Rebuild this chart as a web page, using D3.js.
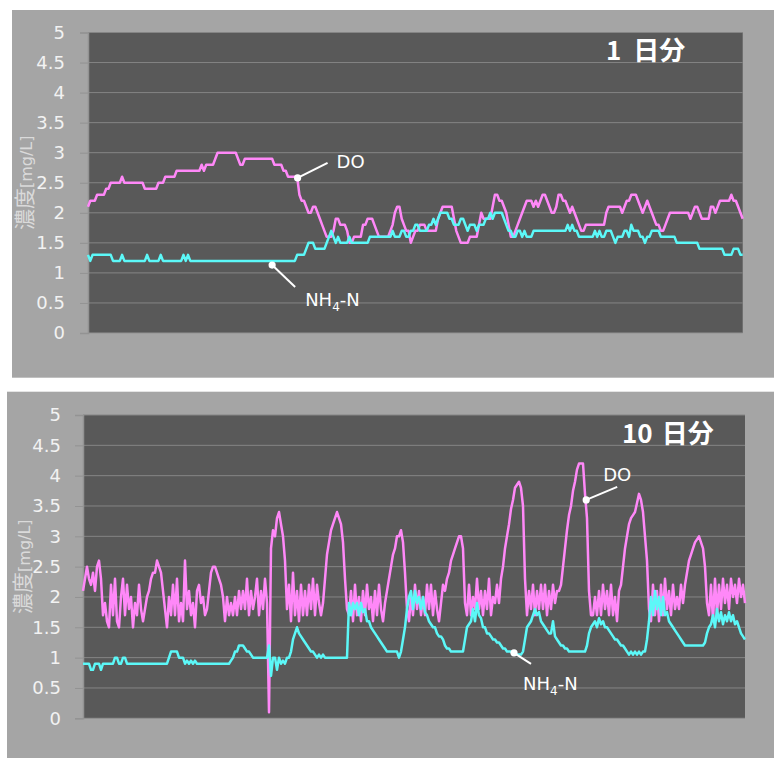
<!DOCTYPE html>
<html>
<head>
<meta charset="utf-8">
<script src="https://cdn.jsdelivr.net/npm/d3@7"></script>
<style>
  html, body { margin: 0; padding: 0; background: #ffffff; }
  svg { display: block; }
</style>
</head>
<body>
<svg id="chart" width="774" height="758"></svg>
<script>
// ---- data -------------------------------------------------------------
// Y axis ticks (mg/L)
const yTicks = [0, 0.5, 1, 1.5, 2, 2.5, 3, 3.5, 4, 4.5, 5];
const yTickLabels = ["0", "0.5", "1", "1.5", "2", "2.5", "3", "3.5", "4", "4.5", "5"];
const axisTitle = ["濃度", "[mg/L]"];
const seriesNames = ["DO", "NH4-N"];
const panelTitles = [["1", "日分"], ["10", "日分"]];

// One day, 5-minute readings
const doDay1 = [
  2.1,2.2,2.2,2.2,2.3,2.3,2.3,2.3,2.4,2.4,
  2.5,2.5,2.5,2.5,2.5,2.6,2.5,2.5,2.5,2.5,
  2.5,2.5,2.5,2.5,2.5,2.4,2.4,2.4,2.4,2.4,
  2.4,2.5,2.5,2.5,2.6,2.6,2.6,2.6,2.6,2.7,
  2.7,2.7,2.7,2.7,2.7,2.7,2.7,2.7,2.7,2.7,
  2.8,2.7,2.8,2.8,2.8,2.8,2.9,3.0,3.0,3.0,
  3.0,3.0,3.0,3.0,3.0,3.0,2.9,2.8,2.8,2.9,
  2.9,2.9,2.9,2.9,2.9,2.9,2.9,2.9,2.9,2.9,
  2.9,2.9,2.8,2.8,2.8,2.8,2.7,2.7,2.6,2.6,
  2.6,2.6,2.6,2.3,2.2,2.2,2.1,2.0,2.0,2.1,
  2.1,2.0,1.9,1.8,1.7,1.6,1.6,1.6,1.7,1.9,
  1.9,1.8,1.8,1.8,1.7,1.5,1.5,1.6,1.6,1.6,
  1.6,1.8,1.8,1.9,1.9,1.9,1.8,1.7,1.6,1.6,
  1.6,1.6,1.6,1.7,1.8,2.0,2.1,2.1,1.9,1.8,
  1.7,1.7,1.5,1.6,1.7,1.7,1.8,1.8,1.8,1.7,
  1.7,1.7,1.7,1.7,1.9,2.0,2.1,2.1,2.1,2.1,
  2.1,1.9,1.7,1.6,1.5,1.5,1.5,1.5,1.6,1.6,
  1.6,1.6,1.8,2.0,1.9,1.9,1.9,1.9,2.1,2.3,
  2.3,2.2,2.2,2.1,2.0,1.8,1.6,1.6,1.7,1.8,
  1.9,2.0,2.1,2.2,2.2,2.2,2.1,2.2,2.1,2.2,
  2.3,2.3,2.2,2.1,2.0,2.0,2.1,2.3,2.3,2.2,
  2.2,2.1,2.0,2.1,2.0,1.9,1.8,1.7,1.7,1.8,
  1.8,1.8,1.8,1.8,1.8,1.8,1.8,1.8,2.0,2.1,
  2.1,2.1,2.1,2.1,2.1,2.0,2.1,2.2,2.2,2.3,
  2.3,2.3,2.2,2.1,2.0,2.1,2.2,2.1,2.0,1.9,
  1.8,1.8,1.7,1.7,1.8,1.9,2.0,2.0,2.0,2.0,
  2.0,2.0,2.0,2.0,2.0,1.9,2.0,2.1,2.1,2.0,
  1.9,1.9,1.9,1.9,2.1,2.1,2.0,2.1,2.2,2.2,
  2.2,2.2,2.2,2.3,2.2,2.2,2.1,2.0,1.9
];
const nh4Day1 = [
  1.3,1.2,1.3,1.3,1.3,1.3,1.3,1.3,1.3,1.3,
  1.3,1.2,1.2,1.2,1.2,1.3,1.2,1.2,1.2,1.2,
  1.2,1.2,1.2,1.2,1.2,1.2,1.3,1.2,1.2,1.2,
  1.2,1.2,1.3,1.2,1.2,1.2,1.2,1.2,1.2,1.2,
  1.2,1.2,1.3,1.2,1.3,1.2,1.2,1.2,1.2,1.2,
  1.2,1.2,1.2,1.2,1.2,1.2,1.2,1.2,1.2,1.2,
  1.2,1.2,1.2,1.2,1.2,1.2,1.2,1.2,1.2,1.2,
  1.2,1.2,1.2,1.2,1.2,1.2,1.2,1.2,1.2,1.2,
  1.2,1.2,1.2,1.2,1.2,1.2,1.2,1.2,1.2,1.2,
  1.2,1.2,1.3,1.3,1.3,1.3,1.4,1.5,1.5,1.5,
  1.4,1.4,1.4,1.4,1.4,1.5,1.6,1.7,1.6,1.5,
  1.6,1.5,1.5,1.5,1.5,1.6,1.5,1.5,1.5,1.5,
  1.5,1.5,1.5,1.5,1.6,1.6,1.6,1.6,1.6,1.6,
  1.6,1.6,1.6,1.6,1.7,1.6,1.6,1.6,1.7,1.7,
  1.6,1.6,1.7,1.7,1.8,1.8,1.7,1.7,1.7,1.7,
  1.8,1.8,1.9,1.8,1.9,2.0,2.0,2.0,2.0,1.9,
  1.9,1.8,1.8,1.8,1.9,1.9,1.8,1.7,1.8,1.8,
  1.8,1.7,1.8,1.8,1.8,1.9,1.9,2.0,1.9,2.0,
  2.0,2.0,2.0,1.9,1.8,1.7,1.7,1.6,1.6,1.7,
  1.7,1.6,1.7,1.6,1.6,1.6,1.7,1.7,1.7,1.7,
  1.7,1.7,1.7,1.7,1.7,1.7,1.7,1.7,1.7,1.7,
  1.7,1.8,1.7,1.8,1.7,1.7,1.6,1.6,1.6,1.6,
  1.6,1.6,1.6,1.7,1.6,1.7,1.6,1.6,1.7,1.7,
  1.7,1.6,1.5,1.6,1.6,1.6,1.7,1.7,1.6,1.8,
  1.7,1.7,1.7,1.6,1.6,1.5,1.6,1.6,1.7,1.7,
  1.7,1.7,1.6,1.6,1.6,1.6,1.6,1.6,1.6,1.5,
  1.5,1.5,1.5,1.5,1.5,1.5,1.5,1.5,1.5,1.4,
  1.4,1.4,1.4,1.4,1.4,1.4,1.4,1.4,1.4,1.4,
  1.3,1.3,1.3,1.3,1.4,1.4,1.4,1.3,1.3
];

// Ten days, 45-minute readings
const doDay10 = [
  2.1,2.3,2.5,2.3,2.2,2.4,2.1,2.5,2.6,2.3,
  1.7,1.9,1.6,1.5,2.2,1.7,2.3,1.6,1.5,2.0,
  2.3,1.7,2.2,1.8,2.0,1.5,1.9,1.7,2.2,1.8,
  1.6,1.8,2.0,2.1,2.3,2.4,2.4,2.6,2.5,2.4,
  2.1,1.8,1.5,2.0,1.7,2.2,1.7,2.3,1.6,1.9,
  1.6,2.6,1.8,2.1,1.7,1.9,1.5,2.1,2.2,1.9,
  2.0,1.7,1.8,2.1,2.4,2.5,2.5,2.4,2.3,2.2,
  2.0,1.6,2.0,1.7,1.9,1.7,2.0,1.7,2.1,1.8,
  2.1,1.8,2.3,1.7,2.1,1.8,2.0,2.3,1.7,2.1,
  1.8,2.3,1.9,0.1,2.8,3.1,3.0,3.3,3.4,3.2,
  3.0,2.6,1.8,2.2,1.6,2.4,1.7,2.1,1.6,2.2,
  1.7,2.1,1.7,2.2,1.8,2.3,1.7,2.2,1.9,1.7,
  1.9,2.3,2.7,2.9,3.1,3.2,3.3,3.4,3.3,3.2,
  2.9,2.3,1.8,1.7,2.1,1.6,2.2,1.7,2.0,1.6,
  2.1,1.7,2.2,1.8,2.0,1.6,2.1,1.7,2.2,1.8,
  1.6,1.9,2.1,2.3,2.5,2.7,2.8,3.0,3.0,3.1,
  2.9,2.4,1.8,1.6,2.0,1.7,2.2,1.8,2.1,1.7,
  2.0,1.7,2.2,1.8,2.2,1.7,2.1,1.8,1.6,1.9,
  2.2,2.1,2.3,2.4,2.6,2.7,2.8,2.9,3.0,3.0,
  2.8,1.9,1.7,2.2,1.7,2.0,1.8,2.3,1.8,2.1,
  1.7,2.1,1.8,2.3,1.7,2.0,1.9,2.2,1.9,2.3,
  2.5,2.8,3.0,3.2,3.45,3.6,3.8,3.85,3.9,3.8,
  3.5,2.3,1.7,2.1,1.8,2.2,1.7,2.1,1.8,2.2,
  1.8,2.2,1.7,2.1,1.8,2.2,1.9,2.1,2.1,2.2,
  2.5,2.8,3.1,3.35,3.5,3.75,3.9,4.1,4.2,4.2,
  4.2,3.7,3.3,2.1,1.7,1.7,2.0,1.7,2.1,1.7,
  2.2,1.8,2.1,1.7,2.2,1.7,2.0,1.6,2.1,2.2,
  2.5,2.8,3.0,3.2,3.3,3.35,3.4,3.55,3.7,3.6,
  3.4,3.0,2.6,1.8,1.6,2.2,1.7,2.1,1.6,2.2,
  1.7,2.3,1.8,2.1,1.7,2.2,1.8,2.0,1.8,2.2,
  1.9,2.2,2.4,2.6,2.7,2.8,2.9,2.95,3.0,2.9,
  2.8,2.5,1.9,1.7,2.2,1.6,2.3,1.7,2.2,1.8,
  2.3,1.9,2.2,1.8,2.3,2.0,2.2,1.9,2.3,2.0,
  2.2,1.9
];
const nh4Day10 = [
  0.9,0.9,0.9,0.9,0.8,0.8,0.9,0.9,0.9,0.8,
  0.9,0.9,0.9,0.9,0.9,0.9,1.0,1.0,0.9,0.9,
  1.0,1.0,0.9,0.9,0.9,0.9,0.9,0.9,0.9,0.9,
  0.9,0.9,0.9,0.9,0.9,0.9,0.9,0.9,0.9,0.9,
  0.9,0.9,0.9,1.0,1.1,1.1,1.1,1.1,1.0,1.0,
  1.0,0.9,0.95,0.9,0.95,0.9,0.95,0.9,0.9,0.9,
  0.9,0.9,0.9,0.9,0.9,0.9,0.9,0.9,0.9,0.9,
  0.9,0.9,0.9,0.9,0.95,1.0,1.1,1.1,1.2,1.2,
  1.2,1.15,1.1,1.1,1.05,1.0,1.0,1.0,1.0,1.0,
  1.0,1.0,1.0,1.2,0.7,1.0,1.0,0.8,1.0,0.9,
  0.95,0.9,1.0,1.0,1.1,1.3,1.4,1.5,1.4,1.35,
  1.3,1.25,1.2,1.15,1.1,1.1,1.05,1.0,1.05,1.0,
  1.05,1.0,1.0,1.0,1.0,1.0,1.0,1.0,1.0,1.0,
  1.0,1.0,1.0,1.9,1.7,1.9,1.8,1.9,1.7,1.9,
  1.75,1.8,1.6,1.6,1.5,1.45,1.4,1.35,1.3,1.25,
  1.2,1.15,1.1,1.1,1.1,1.1,1.1,1.1,1.0,1.1,
  1.3,1.5,1.8,2.0,2.1,1.8,2.1,1.9,2.0,1.8,
  2.0,1.75,1.7,1.6,1.55,1.5,1.5,1.4,1.35,1.35,
  1.3,1.2,1.15,1.15,1.1,1.1,1.1,1.1,1.1,1.1,
  1.1,1.3,1.5,1.55,1.6,1.8,1.6,1.9,1.7,1.65,
  1.5,1.5,1.4,1.4,1.35,1.3,1.3,1.25,1.25,1.2,
  1.15,1.15,1.1,1.1,1.1,1.05,1.05,1.05,1.05,1.05,
  1.1,1.3,1.5,1.55,1.6,1.7,1.8,1.7,1.75,1.6,
  1.55,1.5,1.45,1.4,1.4,1.6,1.35,1.3,1.25,1.2,
  1.2,1.15,1.15,1.1,1.1,1.1,1.1,1.1,1.1,1.1,
  1.1,1.1,1.2,1.4,1.5,1.55,1.6,1.5,1.65,1.55,
  1.6,1.5,1.5,1.45,1.4,1.35,1.3,1.3,1.25,1.2,
  1.2,1.15,1.1,1.05,1.1,1.05,1.1,1.05,1.1,1.05,
  1.1,1.1,1.3,1.6,2.0,1.7,2.1,1.8,2.0,1.7,
  2.0,1.7,1.75,1.6,1.55,1.5,1.45,1.4,1.35,1.3,
  1.25,1.2,1.2,1.2,1.2,1.2,1.2,1.2,1.2,1.2,
  1.2,1.25,1.4,1.5,1.55,1.7,1.5,1.8,1.6,1.75,
  1.55,1.7,1.6,1.75,1.6,1.7,1.55,1.6,1.5,1.4,
  1.35,1.3
];

// Callout anchors: reading index and value where each leader touches its line
const calloutsDay1 = [{ i: 92.2, v: 2.58 }, { i: 81, v: 1.13 }];
const calloutsDay10 = [{ i: 251.6, v: 3.6 }, { i: 215.5, v: 1.08 }];

// ---- drawing ----------------------------------------------------------
const COLORS = {
  frame: "#a5a5a5",
  plot: "#595959",
  grid: "#858585",
  axis: "#939393",
  tick: "#f2f2f2",
  title: "#dadada",
  doLine: "#ff88f8",
  nh4Line: "#5cf8f8",
  callout: "#ffffff"
};
const FONT = "'DejaVu Sans', 'Noto Sans CJK JP', sans-serif";
const CJK = "'Noto Sans CJK JP', sans-serif";

const svg = d3.select("#chart");

const panels = [
  {
    frame: { x: 12, y: 10, w: 762, h: 367.7 },
    plot: { x0: 88, x1: 742.7, y0: 32.5, y1: 333 },
    doData: doDay1, nh4Data: nh4Day1, callouts: calloutsDay1,
    labelRight: 65, axisTitleX: 26,
    heading: panelTitles[0], headingX: 606, headingGap: 12, headingY: 60,
    // leader end and label offsets from each anchor: [DO, NH4-N]
    leaders: [{ ex: 30, ey: -15, lx: 39, ly: -10 }, { ex: 23, ey: 22, lx: 33, ly: 41 }]
  },
  {
    frame: { x: 7, y: 391.7, w: 767, h: 366.3 },
    plot: { x0: 83, x1: 745, y0: 415, y1: 718.3 },
    doData: doDay10, nh4Data: nh4Day10, callouts: calloutsDay10,
    labelRight: 61, axisTitleX: 24,
    heading: panelTitles[1], headingX: 622, headingGap: 9, headingY: 443,
    leaders: [{ ex: 31, ey: -13, lx: 17, ly: -19 }, { ex: 17, ey: 11, lx: 9, ly: 37 }]
  }
];

panels.forEach(drawPanel);

function drawPanel(p) {
  const g = svg.append("g");
  const { x0, x1, y0, y1 } = p.plot;

  g.append("rect")
    .attr("x", p.frame.x).attr("y", p.frame.y)
    .attr("width", p.frame.w).attr("height", p.frame.h)
    .attr("fill", COLORS.frame);

  g.append("rect")
    .attr("x", x0).attr("y", y0)
    .attr("width", x1 - x0).attr("height", y1 - y0)
    .attr("fill", COLORS.plot);

  const x = d3.scaleLinear().domain([0, p.doData.length - 1]).range([x0, x1]);
  const y = d3.scaleLinear().domain([0, 5]).range([y1, y0]);

  // horizontal gridlines
  g.append("g").selectAll("line")
    .data(yTicks.filter(t => t > 0))
    .join("line")
    .attr("x1", x0).attr("x2", x1)
    .attr("y1", d => y(d)).attr("y2", d => y(d))
    .attr("stroke", COLORS.grid).attr("stroke-width", 1);

  // y axis with outward ticks
  const yAxis = d3.axisLeft(y)
    .tickValues(yTicks)
    .tickFormat((d, i) => yTickLabels[i])
    .tickSize(8)
    .tickPadding(p.plot.x0 - p.labelRight - 8);
  const ax = g.append("g").attr("transform", `translate(${x0},0)`).call(yAxis);
  ax.select(".domain").attr("stroke", COLORS.axis).attr("stroke-width", 1.5);
  ax.selectAll(".tick line").attr("stroke", COLORS.axis).attr("stroke-width", 1);
  ax.selectAll(".tick text")
    .attr("fill", COLORS.tick)
    .style("font-family", FONT)
    .style("font-size", "18px");

  // x axis baseline
  g.append("line")
    .attr("x1", x0).attr("x2", x1)
    .attr("y1", y(0)).attr("y2", y(0))
    .attr("stroke", COLORS.axis).attr("stroke-width", 1);

  // axis title: kanji set larger than the bracketed unit
  const title = g.append("text")
    .attr("transform", `translate(${p.axisTitleX},${(y0 + y1) / 2}) rotate(-90)`)
    .attr("text-anchor", "middle")
    .attr("dy", "0.36em")
    .attr("fill", COLORS.title)
    .style("font-family", FONT);
  title.append("tspan").style("font-family", CJK).style("font-size", "21px").text(axisTitle[0]);
  title.append("tspan").style("font-size", "16px").text(axisTitle[1]);

  // series
  const line = d3.line().x((d, i) => x(i)).y(d => y(d));
  g.append("path")
    .attr("d", line(p.doData))
    .attr("fill", "none")
    .attr("stroke", COLORS.doLine)
    .attr("stroke-width", 2.5)
    .attr("stroke-linejoin", "round");
  g.append("path")
    .attr("d", line(p.nh4Data))
    .attr("fill", "none")
    .attr("stroke", COLORS.nh4Line)
    .attr("stroke-width", 2.5)
    .attr("stroke-linejoin", "round");

  // callouts
  p.callouts.forEach((c, k) => {
    const ax0 = x(c.i), ay0 = y(c.v);
    const off = p.leaders[k];
    g.append("line")
      .attr("x1", ax0).attr("y1", ay0)
      .attr("x2", ax0 + off.ex).attr("y2", ay0 + off.ey)
      .attr("stroke", COLORS.callout).attr("stroke-width", 2);
    g.append("circle")
      .attr("cx", ax0).attr("cy", ay0).attr("r", 3.6)
      .attr("fill", COLORS.callout);
    const t = g.append("text")
      .attr("x", ax0 + off.lx).attr("y", ay0 + off.ly)
      .attr("fill", COLORS.callout)
      .style("font-family", FONT)
      .style("font-size", "18px");
    const name = seriesNames[k];
    if (name === "NH4-N") {
      t.append("tspan").text("NH");
      t.append("tspan").attr("dy", 5).style("font-size", "12px").text("4");
      t.append("tspan").attr("dy", -5).text("-N");
    } else {
      t.text(name);
    }
  });

  // panel heading
  const h = g.append("text")
    .attr("x", p.headingX).attr("y", p.headingY)
    .attr("fill", "#ffffff")
    .style("font-family", CJK)
    .style("font-weight", "bold")
    .style("font-size", "26px");
  h.append("tspan").text(p.heading[0]);
  h.append("tspan").attr("dx", p.headingGap).text(p.heading[1]);
}
</script>
</body>
</html>
